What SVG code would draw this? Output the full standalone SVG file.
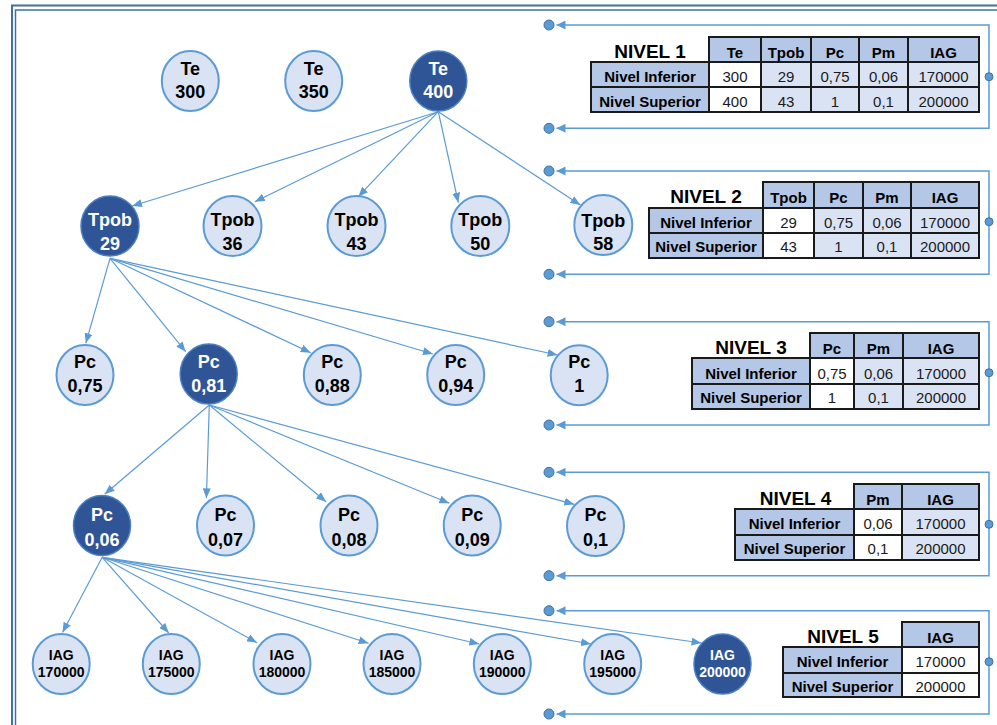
<svg xmlns="http://www.w3.org/2000/svg" width="997" height="725" viewBox="0 0 997 725">
<style>
.nl{fill:#DAE3F3;stroke:#5B9BD5;stroke-width:2}
.nd{fill:#2F5597;stroke:#4A7EC4;stroke-width:1.5}
.tl{font-family:"Liberation Sans",Arial,sans-serif;font-weight:bold;font-size:18px;text-anchor:middle;fill:#000}
.td{font-family:"Liberation Sans",Arial,sans-serif;font-weight:bold;font-size:18px;text-anchor:middle;fill:#fff}
.sl{font-family:"Liberation Sans",Arial,sans-serif;font-weight:bold;font-size:14px;text-anchor:middle;fill:#000}
.sd{font-family:"Liberation Sans",Arial,sans-serif;font-weight:bold;font-size:14px;text-anchor:middle;fill:#fff}
.edge{stroke:#5B9BD5;stroke-width:1.2;fill:none;marker-end:url(#arr)}
.loop{stroke:#5B9BD5;stroke-width:1.5;fill:none;marker-end:url(#arr2)}
.dot{fill:#5B9BD5;stroke:#41719C;stroke-width:1}
.frame{fill:none;stroke:#41719C}
.h{fill:#B4C7E7;stroke:#1a1a1a;stroke-width:2}
.w{fill:#FFFFFF;stroke:#1a1a1a;stroke-width:2}
.c{fill:#DAE3F3;stroke:#1a1a1a;stroke-width:2}
.tt{font-family:"Liberation Sans",Arial,sans-serif;font-weight:bold;font-size:19px;text-anchor:middle;fill:#000}
.hb{font-family:"Liberation Sans",Arial,sans-serif;font-weight:bold;font-size:15px;text-anchor:middle;fill:#000}
.v{font-family:"Liberation Sans",Arial,sans-serif;font-size:15px;text-anchor:middle;fill:#1a1a1a}
</style>
<defs>
<marker id="arr" markerUnits="userSpaceOnUse" markerWidth="10" markerHeight="8" viewBox="0 0 10 8" refX="10" refY="4" orient="auto">
<path d="M0,0 L10,4 L0,8 z" fill="#5B9BD5"/>
</marker>
<marker id="arr2" markerUnits="userSpaceOnUse" markerWidth="9" markerHeight="9" viewBox="0 0 9 9" refX="9" refY="4.5" orient="auto">
<path d="M0,0 L9,4.5 L0,9 z" fill="#5B9BD5"/>
</marker>
</defs>
<rect width="997" height="725" fill="#fff"/>
<g id="frame">
<path class="frame" stroke-width="2" d="M12,725 V5.5 H997"/>
<path class="frame" stroke-width="1.5" d="M15.5,725 V10 H997"/>
</g>
<g id="connectors">
<line class="edge" x1="438.3" y1="111.7" x2="132.1" y2="206"/>
<line class="edge" x1="438.3" y1="111.7" x2="254.9" y2="201.7"/>
<line class="edge" x1="438.3" y1="111.7" x2="358.3" y2="196.7"/>
<line class="edge" x1="438.3" y1="111.7" x2="458.3" y2="202.7"/>
<line class="edge" x1="438.3" y1="111.7" x2="580.4" y2="205"/>
<line class="edge" x1="110" y1="258.3" x2="85.8" y2="343.3"/>
<line class="edge" x1="110" y1="258.3" x2="185.7" y2="351.7"/>
<line class="edge" x1="110" y1="258.3" x2="310.7" y2="352.7"/>
<line class="edge" x1="110" y1="258.3" x2="432.9" y2="354"/>
<line class="edge" x1="110" y1="258.3" x2="557.6" y2="355"/>
<line class="edge" x1="209.3" y1="405" x2="104.6" y2="494.3"/>
<line class="edge" x1="209.3" y1="405" x2="206.4" y2="498.3"/>
<line class="edge" x1="209.3" y1="405" x2="326.1" y2="501.7"/>
<line class="edge" x1="209.3" y1="405" x2="449.3" y2="503.3"/>
<line class="edge" x1="209.3" y1="405" x2="574.3" y2="504.3"/>
<line class="edge" x1="102.2" y1="557.3" x2="62.5" y2="632.5"/>
<line class="edge" x1="102.2" y1="557.3" x2="168.8" y2="633"/>
<line class="edge" x1="102.2" y1="557.3" x2="257" y2="642.7"/>
<line class="edge" x1="102.2" y1="557.3" x2="368.6" y2="643.3"/>
<line class="edge" x1="102.2" y1="557.3" x2="479.3" y2="644"/>
<line class="edge" x1="102.2" y1="557.3" x2="591" y2="644"/>
<line class="edge" x1="102.2" y1="557.3" x2="701.5" y2="643"/>
<g id="loop1">
<path class="loop" d="M989,76.7 V25 H556.5"/>
<path class="loop" d="M989,76.7 V128.3 H556.5"/>
<circle class="dot" cx="549" cy="25" r="5"/>
<circle class="dot" cx="549" cy="128.3" r="5"/>
<circle class="dot" cx="989" cy="76.7" r="4"/>
</g>
<g id="loop2">
<path class="loop" d="M989,221.7 V171 H556.5"/>
<path class="loop" d="M989,221.7 V274.3 H556.5"/>
<circle class="dot" cx="549" cy="171" r="5"/>
<circle class="dot" cx="549" cy="274.3" r="5"/>
<circle class="dot" cx="989" cy="221.7" r="4"/>
</g>
<g id="loop3">
<path class="loop" d="M989,372.7 V321.7 H556.5"/>
<path class="loop" d="M989,372.7 V425 H556.5"/>
<circle class="dot" cx="549" cy="321.7" r="5"/>
<circle class="dot" cx="549" cy="425" r="5"/>
<circle class="dot" cx="989" cy="372.7" r="4"/>
</g>
<g id="loop4">
<path class="loop" d="M989,524.3 V472.3 H556.5"/>
<path class="loop" d="M989,524.3 V575.7 H556.5"/>
<circle class="dot" cx="549" cy="472.3" r="5"/>
<circle class="dot" cx="549" cy="575.7" r="5"/>
<circle class="dot" cx="989" cy="524.3" r="4"/>
</g>
<g id="loop5">
<path class="loop" d="M989,661.7 V610.7 H556.5"/>
<path class="loop" d="M989,661.7 V714 H556.5"/>
<circle class="dot" cx="549" cy="610.7" r="5"/>
<circle class="dot" cx="549" cy="714" r="5"/>
<circle class="dot" cx="989" cy="661.7" r="4"/>
</g>
</g>
<g id="te300"><ellipse class="nl" cx="190.3" cy="81" rx="28.5" ry="30"/><text class="tl" x="190.3" y="75">Te</text><text class="tl" x="190.3" y="98.3">300</text></g>
<g id="te350"><ellipse class="nl" cx="313.7" cy="81" rx="28.5" ry="30"/><text class="tl" x="313.7" y="75">Te</text><text class="tl" x="313.7" y="98.3">350</text></g>
<g id="te400"><ellipse class="nd" cx="438.3" cy="81" rx="28.5" ry="30"/><text class="td" x="438.3" y="75">Te</text><text class="td" x="438.3" y="98.3">400</text></g>
<g id="tpob29"><ellipse class="nd" cx="110" cy="226" rx="29" ry="30"/><text class="td" x="110" y="226">Tpob</text><text class="td" x="110" y="250">29</text></g>
<g id="tpob36"><ellipse class="nl" cx="232.5" cy="226" rx="29" ry="30"/><text class="tl" x="232.5" y="226">Tpob</text><text class="tl" x="232.5" y="250">36</text></g>
<g id="tpob43"><ellipse class="nl" cx="356.5" cy="226" rx="29" ry="30"/><text class="tl" x="356.5" y="226">Tpob</text><text class="tl" x="356.5" y="250">43</text></g>
<g id="tpob50"><ellipse class="nl" cx="480.3" cy="226" rx="29" ry="30"/><text class="tl" x="480.3" y="226">Tpob</text><text class="tl" x="480.3" y="250">50</text></g>
<g id="tpob58"><ellipse class="nl" cx="603.3" cy="225" rx="29" ry="30"/><text class="tl" x="603.3" y="226.5">Tpob</text><text class="tl" x="603.3" y="249.5">58</text></g>
<g id="pc075"><ellipse class="nl" cx="85" cy="375" rx="28.5" ry="30"/><text class="tl" x="85" y="368.3">Pc</text><text class="tl" x="85" y="391.7">0,75</text></g>
<g id="pc081"><ellipse class="nd" cx="208.7" cy="374" rx="28.5" ry="30"/><text class="td" x="208.7" y="368.3">Pc</text><text class="td" x="208.7" y="391.7">0,81</text></g>
<g id="pc088"><ellipse class="nl" cx="332.3" cy="375" rx="28.5" ry="30"/><text class="tl" x="332.3" y="368.3">Pc</text><text class="tl" x="332.3" y="391.7">0,88</text></g>
<g id="pc094"><ellipse class="nl" cx="455.7" cy="375" rx="28.5" ry="30"/><text class="tl" x="455.7" y="368.3">Pc</text><text class="tl" x="455.7" y="391.7">0,94</text></g>
<g id="pc1"><ellipse class="nl" cx="579.2" cy="375.3" rx="28.5" ry="30"/><text class="tl" x="579.2" y="368.3">Pc</text><text class="tl" x="579.2" y="391.7">1</text></g>
<g id="pm006"><ellipse class="nd" cx="102" cy="525.5" rx="28.5" ry="30"/><text class="td" x="102" y="520.7">Pc</text><text class="td" x="102" y="545.7">0,06</text></g>
<g id="pm007"><ellipse class="nl" cx="225.5" cy="525.5" rx="28.5" ry="30"/><text class="tl" x="225.5" y="520.7">Pc</text><text class="tl" x="225.5" y="545.7">0,07</text></g>
<g id="pm008"><ellipse class="nl" cx="349" cy="525.5" rx="28.5" ry="30"/><text class="tl" x="349" y="520.7">Pc</text><text class="tl" x="349" y="545.7">0,08</text></g>
<g id="pm009"><ellipse class="nl" cx="472.2" cy="525.5" rx="28.5" ry="30"/><text class="tl" x="472.2" y="520.7">Pc</text><text class="tl" x="472.2" y="545.7">0,09</text></g>
<g id="pm01"><ellipse class="nl" cx="595.5" cy="526" rx="28.5" ry="30"/><text class="tl" x="595.5" y="520.7">Pc</text><text class="tl" x="595.5" y="545.7">0,1</text></g>
<g id="iag170000"><ellipse class="nl" cx="61.2" cy="664" rx="28.5" ry="30"/><text class="sl" x="61.2" y="660">IAG</text><text class="sl" x="61.2" y="677.3">170000</text></g>
<g id="iag175000"><ellipse class="nl" cx="171.3" cy="664" rx="28.5" ry="30"/><text class="sl" x="171.3" y="660">IAG</text><text class="sl" x="171.3" y="677.3">175000</text></g>
<g id="iag180000"><ellipse class="nl" cx="282" cy="664" rx="28.5" ry="30"/><text class="sl" x="282" y="660">IAG</text><text class="sl" x="282" y="677.3">180000</text></g>
<g id="iag185000"><ellipse class="nl" cx="392" cy="664" rx="28.5" ry="30"/><text class="sl" x="392" y="660">IAG</text><text class="sl" x="392" y="677.3">185000</text></g>
<g id="iag190000"><ellipse class="nl" cx="502.3" cy="664" rx="28.5" ry="30"/><text class="sl" x="502.3" y="660">IAG</text><text class="sl" x="502.3" y="677.3">190000</text></g>
<g id="iag195000"><ellipse class="nl" cx="612.7" cy="664" rx="28.5" ry="30"/><text class="sl" x="612.7" y="660">IAG</text><text class="sl" x="612.7" y="677.3">195000</text></g>
<g id="iag200000"><ellipse class="nd" cx="722.5" cy="664" rx="28.5" ry="30"/><text class="sd" x="722.5" y="660">IAG</text><text class="sd" x="722.5" y="677.3">200000</text></g>
<g id="tabla1">
<text class="tt" x="650" y="58">NIVEL 1</text>
<rect class="h" x="709" y="37" width="52" height="25"/><rect class="h" x="761" y="37" width="50" height="25"/><rect class="h" x="811" y="37" width="48" height="25"/><rect class="h" x="859" y="37" width="49" height="25"/><rect class="h" x="908" y="37" width="71" height="25"/>
<rect class="h" x="591" y="62" width="118" height="25"/><rect class="w" x="709" y="62" width="52" height="25"/><rect class="c" x="761" y="62" width="50" height="25"/><rect class="c" x="811" y="62" width="48" height="25"/><rect class="c" x="859" y="62" width="49" height="25"/><rect class="c" x="908" y="62" width="71" height="25"/>
<rect class="h" x="591" y="87" width="118" height="25"/><rect class="w" x="709" y="87" width="52" height="25"/><rect class="c" x="761" y="87" width="50" height="25"/><rect class="c" x="811" y="87" width="48" height="25"/><rect class="c" x="859" y="87" width="49" height="25"/><rect class="c" x="908" y="87" width="71" height="25"/>
<text class="hb" x="735" y="57.5">Te</text><text class="hb" x="786" y="57.5">Tpob</text><text class="hb" x="835" y="57.5">Pc</text><text class="hb" x="883.5" y="57.5">Pm</text><text class="hb" x="943.5" y="57.5">IAG</text>
<text class="hb" x="650" y="81.5">Nivel Inferior</text><text class="v" x="735" y="81.5">300</text><text class="v" x="786" y="81.5">29</text><text class="v" x="835" y="81.5">0,75</text><text class="v" x="883.5" y="81.5">0,06</text><text class="v" x="943.5" y="81.5">170000</text>
<text class="hb" x="650" y="106.5">Nivel Superior</text><text class="v" x="735" y="106.5">400</text><text class="v" x="786" y="106.5">43</text><text class="v" x="835" y="106.5">1</text><text class="v" x="883.5" y="106.5">0,1</text><text class="v" x="943.5" y="106.5">200000</text>
</g>
<g id="tabla2">
<text class="tt" x="706" y="203">NIVEL 2</text>
<rect class="h" x="763" y="182" width="51" height="26"/><rect class="h" x="814" y="182" width="49" height="26"/><rect class="h" x="863" y="182" width="48" height="26"/><rect class="h" x="911" y="182" width="68" height="26"/>
<rect class="h" x="649" y="208" width="114" height="25"/><rect class="w" x="763" y="208" width="51" height="25"/><rect class="c" x="814" y="208" width="49" height="25"/><rect class="c" x="863" y="208" width="48" height="25"/><rect class="c" x="911" y="208" width="68" height="25"/>
<rect class="h" x="649" y="233" width="114" height="25"/><rect class="w" x="763" y="233" width="51" height="25"/><rect class="c" x="814" y="233" width="49" height="25"/><rect class="c" x="863" y="233" width="48" height="25"/><rect class="c" x="911" y="233" width="68" height="25"/>
<text class="hb" x="788.5" y="203">Tpob</text><text class="hb" x="838.5" y="203">Pc</text><text class="hb" x="887" y="203">Pm</text><text class="hb" x="945" y="203">IAG</text>
<text class="hb" x="706" y="227.5">Nivel Inferior</text><text class="v" x="788.5" y="227.5">29</text><text class="v" x="838.5" y="227.5">0,75</text><text class="v" x="887" y="227.5">0,06</text><text class="v" x="945" y="227.5">170000</text>
<text class="hb" x="706" y="252">Nivel Superior</text><text class="v" x="788.5" y="252">43</text><text class="v" x="838.5" y="252">1</text><text class="v" x="887" y="252">0,1</text><text class="v" x="945" y="252">200000</text>
</g>
<g id="tabla3">
<text class="tt" x="751" y="354.3">NIVEL 3</text>
<rect class="h" x="810" y="333" width="44" height="25"/><rect class="h" x="854" y="333" width="49" height="25"/><rect class="h" x="903" y="333" width="76" height="25"/>
<rect class="h" x="692" y="358" width="118" height="26"/><rect class="w" x="810" y="358" width="44" height="26"/><rect class="c" x="854" y="358" width="49" height="26"/><rect class="c" x="903" y="358" width="76" height="26"/>
<rect class="h" x="692" y="384" width="118" height="25"/><rect class="w" x="810" y="384" width="44" height="25"/><rect class="c" x="854" y="384" width="49" height="25"/><rect class="c" x="903" y="384" width="76" height="25"/>
<text class="hb" x="832" y="354">Pc</text><text class="hb" x="878.5" y="354">Pm</text><text class="hb" x="941" y="354">IAG</text>
<text class="hb" x="751" y="378.5">Nivel Inferior</text><text class="v" x="832" y="378.5">0,75</text><text class="v" x="878.5" y="378.5">0,06</text><text class="v" x="941" y="378.5">170000</text>
<text class="hb" x="751" y="403">Nivel Superior</text><text class="v" x="832" y="403">1</text><text class="v" x="878.5" y="403">0,1</text><text class="v" x="941" y="403">200000</text>
</g>
<g id="tabla4">
<text class="tt" x="795.5" y="505">NIVEL 4</text>
<rect class="h" x="854" y="484" width="48" height="25"/><rect class="h" x="902" y="484" width="77" height="25"/>
<rect class="h" x="735" y="509" width="119" height="26"/><rect class="w" x="854" y="509" width="48" height="26"/><rect class="c" x="902" y="509" width="77" height="26"/>
<rect class="h" x="735" y="535" width="119" height="25"/><rect class="w" x="854" y="535" width="48" height="25"/><rect class="c" x="902" y="535" width="77" height="25"/>
<text class="hb" x="878" y="505">Pm</text><text class="hb" x="940.5" y="505">IAG</text>
<text class="hb" x="794.5" y="529">Nivel Inferior</text><text class="v" x="878" y="529">0,06</text><text class="v" x="940.5" y="529">170000</text>
<text class="hb" x="794.5" y="553.5">Nivel Superior</text><text class="v" x="878" y="553.5">0,1</text><text class="v" x="940.5" y="553.5">200000</text>
</g>
<g id="tabla5">
<text class="tt" x="843" y="643.3">NIVEL 5</text>
<rect class="h" x="902" y="622" width="77" height="25"/>
<rect class="h" x="783" y="647" width="119" height="26"/><rect class="w" x="902" y="647" width="77" height="26"/>
<rect class="h" x="783" y="673" width="119" height="24"/><rect class="w" x="902" y="673" width="77" height="24"/>
<text class="hb" x="940.5" y="643">IAG</text>
<text class="hb" x="842.5" y="666.7">Nivel Inferior</text><text class="v" x="940.5" y="666.7">170000</text>
<text class="hb" x="842.5" y="691.5">Nivel Superior</text><text class="v" x="940.5" y="691.5">200000</text>
</g>
</svg>
